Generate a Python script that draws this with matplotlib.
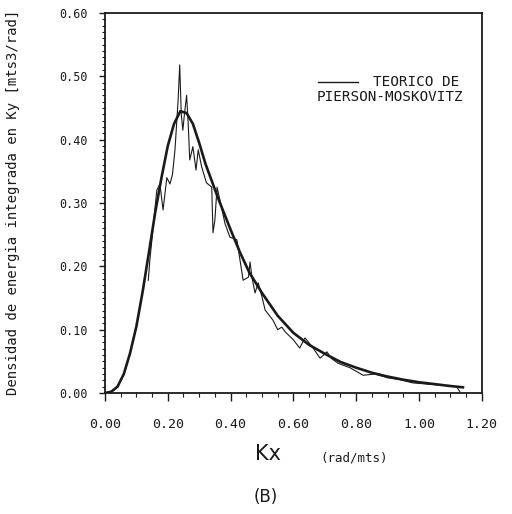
import matplotlib
matplotlib.use("Agg")
import matplotlib.pyplot as plt
from matplotlib.lines import Line2D
from matplotlib.ticker import MultipleLocator, FormatStrFormatter

# Theoretical Pierson-Moskowitz curve
k_teo = [0.00, 0.02, 0.04, 0.06, 0.08, 0.10, 0.12, 0.14, 0.16, 0.18, 0.20, 0.22,
         0.24, 0.26, 0.28, 0.30, 0.32, 0.34, 0.36, 0.38, 0.40, 0.43, 0.46, 0.50,
         0.55, 0.60, 0.65, 0.70, 0.75, 0.80, 0.85, 0.90, 0.95, 1.00, 1.05, 1.10, 1.14]
e_teo = [0.000, 0.002, 0.010, 0.030, 0.063, 0.105, 0.160, 0.222, 0.285, 0.340, 0.390, 0.425,
         0.445, 0.442, 0.425, 0.395, 0.362, 0.335, 0.308, 0.283, 0.258, 0.222, 0.190, 0.158,
         0.122, 0.095, 0.076, 0.062, 0.049, 0.040, 0.032, 0.026, 0.021, 0.017, 0.014, 0.011, 0.009]

# Measured spectrum (noisy curve)
k_med = [0.138, 0.143, 0.155, 0.165, 0.175, 0.185, 0.197, 0.207, 0.215, 0.223, 0.233, 0.238,
         0.243, 0.248, 0.253, 0.260, 0.265, 0.270, 0.280, 0.290, 0.297, 0.308, 0.323, 0.340,
         0.344, 0.350, 0.357, 0.366, 0.382, 0.398, 0.420, 0.430, 0.440, 0.457, 0.462, 0.468,
         0.478, 0.488, 0.500, 0.510, 0.535, 0.550, 0.563, 0.575, 0.600, 0.620, 0.637, 0.660,
         0.685, 0.707, 0.720, 0.742, 0.780, 0.822, 0.860, 0.900, 0.940, 0.980, 1.030, 1.080,
         1.120, 1.130]
e_med = [0.178, 0.210, 0.270, 0.320, 0.330, 0.289, 0.340, 0.330, 0.345, 0.384, 0.463, 0.518,
         0.440, 0.415, 0.440, 0.470, 0.426, 0.368, 0.389, 0.352, 0.384, 0.357, 0.332, 0.325,
         0.253, 0.273, 0.325, 0.305, 0.268, 0.246, 0.242, 0.210, 0.178, 0.183, 0.207, 0.183,
         0.158, 0.174, 0.152, 0.131, 0.115, 0.100, 0.104, 0.096, 0.084, 0.071, 0.087, 0.073,
         0.055, 0.065, 0.055, 0.047, 0.040, 0.028, 0.030, 0.024, 0.021, 0.016, 0.014, 0.012,
         0.010, 0.002]

x_ticks = [0.0, 0.2, 0.4, 0.6, 0.8, 1.0, 1.2]
y_ticks = [0.0, 0.1, 0.2, 0.3, 0.4, 0.5, 0.6]

mono = "DejaVu Sans Mono"
ink = "#1a1a1a"

fig = plt.figure(figsize=(5.12, 5.14), dpi=100)
ax = fig.add_axes([0.205, 0.2354, 0.736, 0.7393])

ax.plot(k_med, e_med, color=ink, lw=0.8)
ax.plot(k_teo, e_teo, color=ink, lw=1.9)

ax.set_xlim(0, 1.2)
ax.set_ylim(0, 0.6)
ax.set_xticks(x_ticks)
ax.set_yticks(y_ticks)
ax.xaxis.set_minor_locator(MultipleLocator(0.05))
ax.yaxis.set_minor_locator(MultipleLocator(0.01))
ax.xaxis.set_major_formatter(FormatStrFormatter("%.2f"))
ax.yaxis.set_major_formatter(FormatStrFormatter("%.2f"))
ax.tick_params(axis="x", which="major", direction="out", length=5.8, width=1.0, color=ink,
               labelsize=9.5, pad=12, labelcolor=ink)
ax.tick_params(axis="x", which="minor", direction="out", length=3, width=0.8, color=ink)
ax.tick_params(axis="y", which="major", direction="out", length=4.5, width=1.0, color=ink,
               labelsize=8.5, pad=8, labelcolor=ink)
ax.tick_params(axis="y", which="minor", direction="out", length=2.2, width=0.8, color=ink)
for lab in ax.get_xticklabels() + ax.get_yticklabels():
    lab.set_fontfamily(mono)
for s in ax.spines.values():
    s.set_linewidth(1.3)
    s.set_color(ink)

# legend
ax.add_line(Line2D([0.565, 0.671], [0.818, 0.818], transform=ax.transAxes, color=ink, lw=1.0))
ax.text(0.711, 0.818, "TEORICO DE", transform=ax.transAxes, ha="left", va="center",
        family=mono, fontsize=10.3, color=ink)
ax.text(0.562, 0.779, "PIERSON-MOSKOVITZ", transform=ax.transAxes, ha="left", va="center",
        family=mono, fontsize=10.3, color=ink)

fig.text(13 / 512, 1 - 202 / 514, "Densidad de energia integrada en Ky [mts3/rad]",
         rotation=90, ha="center", va="center", family=mono, fontsize=10, color=ink)
fig.text(268 / 512, 1 - 454 / 514, "Kx", ha="center", va="center", fontsize=15, color=ink)
fig.text(354 / 512, 1 - 458 / 514, "(rad/mts)", ha="center", va="center",
         family=mono, fontsize=9, color=ink)
fig.text(266 / 512, 1 - 497 / 514, "(B)", ha="center", va="center", fontsize=12, color=ink)

fig.savefig("out.png", dpi=100)
